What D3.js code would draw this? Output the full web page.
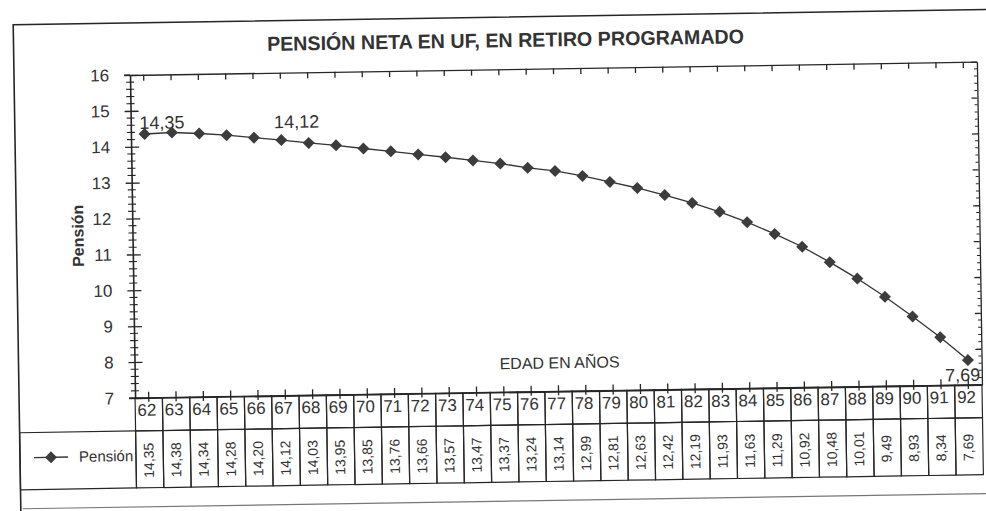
<!DOCTYPE html>
<html lang="es">
<head>
<meta charset="UTF-8">
<title>Pensión neta en UF</title>
<script src="https://cdn.jsdelivr.net/npm/d3@7/dist/d3.min.js"></script>
<style>
    body { margin: 0; background: #fff; }
    text { font-family: "Liberation Sans", Arial, sans-serif; fill: #2b2b2b; }
</style>
</head>
<body>
<script>

    // Data ////////////////////////////////////
    var titulo = 'PENSIÓN NETA EN UF, EN RETIRO PROGRAMADO';
    var serie = 'Pensión';
    var edades = [62, 63, 64, 65, 66, 67, 68, 69, 70, 71, 72, 73, 74, 75, 76, 77,
        78, 79, 80, 81, 82, 83, 84, 85, 86, 87, 88, 89, 90, 91, 92];
    var pension = [14.35, 14.38, 14.34, 14.28, 14.20, 14.12, 14.03, 13.95, 13.85, 13.76,
        13.66, 13.57, 13.47, 13.37, 13.24, 13.14, 12.99, 12.81, 12.63, 12.42, 12.19,
        11.93, 11.63, 11.29, 10.92, 10.48, 10.01, 9.49, 8.93, 8.34, 7.69];
    var yTicks = [7, 8, 9, 10, 11, 12, 13, 14, 15, 16];
    var etiquetadas = [62, 67, 92];   // points carrying a value label

    var fmt = function (v) { return d3.format('.2f')(v).replace('.', ','); };

    //________________________________________________
    // DOM preparation
    //________________________________________________
    var W = 986, H = 511;
    var plot = {left: 130, right: 977, top: 75, bottom: 398};
    var headH = 33, valH = 57;

    var svg = d3.select('body').append('svg').attr('width', W).attr('height', H);
    // the scanned page sits slightly tilted
    var g = svg.append('g').attr('transform', 'rotate(-0.9,' + plot.left + ',' + plot.top + ')');

    var x = d3.scaleBand().domain(edades).range([plot.left, plot.right]).padding(0);
    var y = d3.scaleLinear().domain([7, 16]).range([plot.bottom, plot.top]);
    var bw = x.bandwidth();
    var cx = function (a) { return x(a) + bw / 2; };

    var ink = '#262626';

    // outer frame
    g.append('rect')
        .attr('x', 14).attr('y', 23).attr('width', 1000).attr('height', 540)
        .attr('fill', 'none').attr('stroke', ink).attr('stroke-width', 1.6);
    g.append('line')
        .attr('x1', 16).attr('x2', 985).attr('y1', 507).attr('y2', 507)
        .attr('stroke', '#777').attr('stroke-width', 1.2);

    // title
    g.append('text')
        .attr('x', 506).attr('y', 53)
        .attr('text-anchor', 'middle')
        .attr('textLength', 477).attr('lengthAdjust', 'spacingAndGlyphs')
        .style('font-family', '"Liberation Sans Narrow", "Liberation Sans", Arial, sans-serif')
        .style('font-weight', 'bold').style('font-size', '20px').style('fill', '#333')
        .text(titulo);

    //________________________________________________
    // Axes
    //________________________________________________
    var minor = d3.range(7, 16.001, 0.2).filter(function (v) {
        return Math.abs(v - Math.round(v)) > 0.01;
    });

    // left
    var yAxis = g.append('g').attr('transform', 'translate(' + plot.left + ',0)')
        .call(d3.axisLeft(y).tickValues(yTicks).tickSize(6).tickSizeOuter(0).tickPadding(15));
    yAxis.selectAll('.tick line').attr('x1', 8);
    yAxis.selectAll('.tick text').style('font-size', '17px').style('fill', '#333');
    yAxis.selectAll('path, line').attr('stroke', ink).attr('stroke-width', 1.3);
    yAxis.select('.domain').attr('stroke-width', 1.6);
    g.append('g').selectAll('line').data(minor).enter().append('line')
        .attr('x1', plot.left - 4).attr('x2', plot.left + 4)
        .attr('y1', y).attr('y2', y)
        .attr('stroke', ink).attr('stroke-width', 1.1);

    // right
    var rAxis = g.append('g').attr('transform', 'translate(' + plot.right + ',0)')
        .call(d3.axisLeft(y).tickValues(yTicks).tickSize(6).tickSizeOuter(0).tickFormat(''));
    rAxis.selectAll('path, line').attr('stroke', ink).attr('stroke-width', 1.3);
    g.append('g').selectAll('line').data(minor).enter().append('line')
        .attr('x1', plot.right - 3).attr('x2', plot.right)
        .attr('y1', y).attr('y2', y)
        .attr('stroke', ink).attr('stroke-width', 1);

    // top
    var tAxis = g.append('g').attr('transform', 'translate(0,' + plot.top + ')')
        .call(d3.axisBottom(x).tickSize(6).tickSizeOuter(0).tickFormat(''));
    tAxis.selectAll('path, line').attr('stroke', ink).attr('stroke-width', 1.3);
    g.append('line')
        .attr('x1', plot.left - 6).attr('x2', plot.left)
        .attr('y1', plot.top).attr('y2', plot.top)
        .attr('stroke', ink).attr('stroke-width', 1.3);

    // bottom
    var bAxis = g.append('g').attr('transform', 'translate(0,' + plot.bottom + ')')
        .call(d3.axisTop(x).tickSize(6).tickSizeOuter(0).tickFormat(''));
    bAxis.selectAll('.tick line').attr('y1', 4);
    bAxis.selectAll('path, line').attr('stroke', ink).attr('stroke-width', 1.3);
    bAxis.select('.domain').attr('stroke-width', 1.6);
    g.append('line')
        .attr('x1', plot.left - 6).attr('x2', plot.left)
        .attr('y1', plot.bottom).attr('y2', plot.bottom)
        .attr('stroke', ink).attr('stroke-width', 1.6);

    // axis titles
    g.append('text')
        .attr('transform', 'translate(81,235) rotate(-90)')
        .attr('text-anchor', 'middle')
        .style('font-weight', 'bold').style('font-size', '16px').style('fill', '#333')
        .text('Pensión');
    g.append('text')
        .attr('x', 555).attr('y', 375)
        .attr('text-anchor', 'middle')
        .style('font-size', '16px').style('fill', '#333')
        .text('EDAD EN AÑOS');

    //________________________________________________
    // Series
    //________________________________________________
    var diamond = function (r) {
        return 'M0,' + (-r) + 'L' + r + ',0L0,' + r + 'L' + (-r) + ',0Z';
    };

    var line = d3.line()
        .x(function (d, i) { return cx(edades[i]); })
        .y(function (d) { return y(d); });

    g.append('path').datum(pension)
        .attr('d', line)
        .attr('fill', 'none').attr('stroke', '#333').attr('stroke-width', 1.3);

    g.append('g').selectAll('path').data(pension).enter().append('path')
        .attr('d', diamond(6))
        .attr('transform', function (d, i) {
            return 'translate(' + cx(edades[i]) + ',' + y(d) + ')';
        })
        .attr('fill', '#3c3c3c');

    // value labels
    var place = {
        62: {dx: -5, dy: -5, anchor: 'start'},
        67: {dx: -7, dy: -12, anchor: 'start'},
        92: {dx: 12, dy: 21, anchor: 'end'}
    };
    g.append('g').selectAll('text').data(etiquetadas).enter().append('text')
        .attr('x', function (a) { return cx(a) + place[a].dx; })
        .attr('y', function (a) { return y(pension[edades.indexOf(a)]) + place[a].dy; })
        .attr('text-anchor', function (a) { return place[a].anchor; })
        .style('font-size', '18px').style('fill', '#333')
        .text(function (a) { return fmt(pension[edades.indexOf(a)]); });

    //________________________________________________
    // Data table
    //________________________________________________
    var tbl = g.append('g');
    var rowTop = plot.bottom + headH;

    // header (ages)
    tbl.selectAll('rect.head').data(edades).enter().append('rect')
        .attr('class', 'head')
        .attr('x', function (a) { return x(a); }).attr('y', plot.bottom)
        .attr('width', bw).attr('height', headH)
        .attr('fill', 'none').attr('stroke', ink).attr('stroke-width', 1.2);
    tbl.selectAll('text.head').data(edades).enter().append('text')
        .attr('class', 'head')
        .attr('x', function (a) { return cx(a) - 2; }).attr('y', plot.bottom + 18)
        .attr('text-anchor', 'middle')
        .style('font-size', '17px').style('fill', '#333')
        .text(function (a) { return a; });

    // values row
    tbl.selectAll('rect.val').data(edades).enter().append('rect')
        .attr('class', 'val')
        .attr('x', function (a) { return x(a); }).attr('y', rowTop)
        .attr('width', bw).attr('height', valH)
        .attr('fill', 'none').attr('stroke', ink).attr('stroke-width', 1.2);
    tbl.selectAll('text.val').data(pension).enter().append('text')
        .attr('class', 'val')
        .attr('transform', function (d, i) {
            return 'translate(' + (cx(edades[i]) - 1) + ',' + (rowTop + valH / 2 + 1) + ') rotate(-90)';
        })
        .attr('dy', '0.36em')
        .attr('text-anchor', 'middle')
        .style('font-size', '14px').style('fill', '#333')
        .text(fmt);

    // legend cell
    tbl.append('rect')
        .attr('x', 14).attr('y', rowTop)
        .attr('width', plot.left - 14).attr('height', valH)
        .attr('fill', 'none').attr('stroke', ink).attr('stroke-width', 1.2);
    var ly = rowTop + 25;
    tbl.append('line')
        .attr('x1', 28).attr('x2', 62).attr('y1', ly).attr('y2', ly)
        .attr('stroke', '#333').attr('stroke-width', 1.3);
    tbl.append('path')
        .attr('d', diamond(6))
        .attr('transform', 'translate(45,' + ly + ')')
        .attr('fill', '#3c3c3c');
    tbl.append('text')
        .attr('x', 73).attr('y', ly + 5)
        .style('font-size', '15px').style('fill', '#333')
        .text(serie);

</script>
</body>
</html>
